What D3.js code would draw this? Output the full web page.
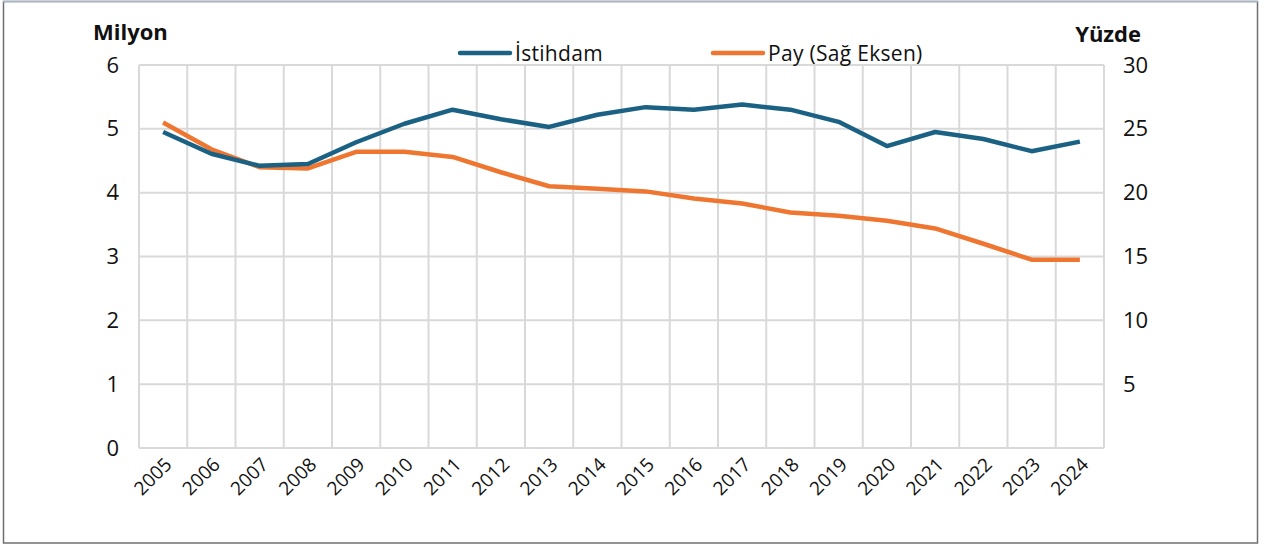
<!DOCTYPE html>
<html>
<head>
<meta charset="utf-8">
<script src="https://cdn.jsdelivr.net/npm/d3@7"></script>
<style>
  body { margin: 0; background: #fff; }
  svg text { font-family: "Open Sans", "Noto Sans", sans-serif; fill: #111; }
</style>
</head>
<body>
<div id="chart"></div>
<script>
// yıllar ve seriler
const years = ["2005","2006","2007","2008","2009","2010","2011","2012","2013","2014",
               "2015","2016","2017","2018","2019","2020","2021","2022","2023","2024"];
// İstihdam (milyon kişi, sol eksen)
const istihdam = [4.95, 4.61, 4.42, 4.45, 4.79, 5.08, 5.30, 5.15, 5.03, 5.22,
                  5.34, 5.30, 5.38, 5.30, 5.11, 4.73, 4.95, 4.84, 4.65, 4.80];
// Pay (yüzde, sağ eksen)
const pay = [25.5, 23.4, 22.0, 21.9, 23.2, 23.2, 22.8, 21.6, 20.5, 20.3,
             20.1, 19.55, 19.15, 18.45, 18.2, 17.8, 17.2, 16.0, 14.75, 14.75];
const leftTicks = [0, 1, 2, 3, 4, 5, 6];
const rightTicks = [5, 10, 15, 20, 25, 30];

const width = 1263;
const height = 546;
const m = { top: 65, right: 160, bottom: 98, left: 139 };

const svg = d3.select("#chart")
  .append("svg")
  .attr("width", width)
  .attr("height", height);

// çerçeve
svg.append("rect")
  .attr("x", 3.5).attr("y", 1.5)
  .attr("width", 1254).attr("height", 541.5)
  .attr("fill", "none")
  .attr("stroke", "#6f6f6f")
  .attr("stroke-width", 1.5);
svg.append("line")
  .attr("x1", 3).attr("x2", 1258).attr("y1", 1.5).attr("y2", 1.5)
  .attr("stroke", "#aab7c9").attr("stroke-width", 1.5);

const x = d3.scaleBand()
  .domain(years)
  .range([m.left, width - m.right + 1])
  .padding(0);

const yL = d3.scaleLinear().domain([0, 6]).range([height - m.bottom, m.top]);
const yR = d3.scaleLinear().domain([0, 30]).range([height - m.bottom, m.top]);

// ızgara
const grid = svg.append("g").attr("stroke", "#d9d9d9").attr("stroke-width", 2);
grid.selectAll("line.h")
  .data(leftTicks)
  .enter()
  .append("line")
  .attr("x1", x.range()[0]).attr("x2", x.range()[1])
  .attr("y1", d => yL(d)).attr("y2", d => yL(d));
const edges = years.map(d => x(d)).concat([x.range()[1]]);
grid.selectAll("line.v")
  .data(edges)
  .enter()
  .append("line")
  .attr("x1", d => d).attr("x2", d => d)
  .attr("y1", yL(0)).attr("y2", yL(6));

// eksenler
const axL = svg.append("g")
  .attr("transform", `translate(${m.left - 20},0)`)
  .call(d3.axisLeft(yL).tickValues(leftTicks).tickFormat(d3.format("d")).tickSize(0).tickPadding(0));
axL.select(".domain").remove();
axL.selectAll("text").style("font-size", "22px");

const axR = svg.append("g")
  .attr("transform", `translate(${x.range()[1] + 19},0)`)
  .call(d3.axisRight(yR).tickValues(rightTicks).tickFormat(d3.format("d")).tickSize(0).tickPadding(0));
axR.select(".domain").remove();
axR.selectAll("text").style("font-size", "22px");

const axB = svg.append("g")
  .attr("transform", `translate(0,${yL(0)})`)
  .call(d3.axisBottom(x).tickSize(0).tickPadding(0));
axB.select(".domain").remove();
axB.selectAll("text")
  .style("font-size", "19px")
  .attr("text-anchor", "end")
  .attr("dy", "0.35em")
  .attr("transform", "translate(5,13) rotate(-45)");

// başlıklar
svg.append("text")
  .attr("x", 93).attr("y", 40)
  .style("font-size", "22px").style("font-weight", "bold")
  .text("Milyon");
svg.append("text")
  .attr("x", 1141).attr("y", 42)
  .attr("text-anchor", "end")
  .style("font-size", "22px").style("font-weight", "bold")
  .text("Yüzde");

// çizgiler
const lineL = d3.line().x((d, i) => x(years[i]) + x.bandwidth() / 2).y(d => yL(d));
const lineR = d3.line().x((d, i) => x(years[i]) + x.bandwidth() / 2).y(d => yR(d));

svg.append("path")
  .datum(pay)
  .attr("fill", "none")
  .attr("stroke", "#ee7630")
  .attr("stroke-width", 4.5)
  .attr("stroke-linejoin", "round")
  .attr("d", lineR);

svg.append("path")
  .datum(istihdam)
  .attr("fill", "none")
  .attr("stroke", "#1b6184")
  .attr("stroke-width", 4.5)
  .attr("stroke-linejoin", "round")
  .attr("d", lineL);

// lejant
const legend = [
  { name: "İstihdam", color: "#1b6184", x: 460 },
  { name: "Pay (Sağ Eksen)", color: "#ee7630", x: 713 }
];
const lg = svg.selectAll("g.legend")
  .data(legend)
  .enter()
  .append("g")
  .attr("transform", d => `translate(${d.x},53)`);
lg.append("line")
  .attr("x1", 0).attr("x2", 50)
  .attr("stroke", d => d.color)
  .attr("stroke-width", 4.5)
  .attr("stroke-linecap", "round");
lg.append("text")
  .attr("x", 55).attr("y", 8)
  .style("font-size", "21px")
  .style("letter-spacing", "0.3px")
  .text(d => d.name);
</script>
</body>
</html>
